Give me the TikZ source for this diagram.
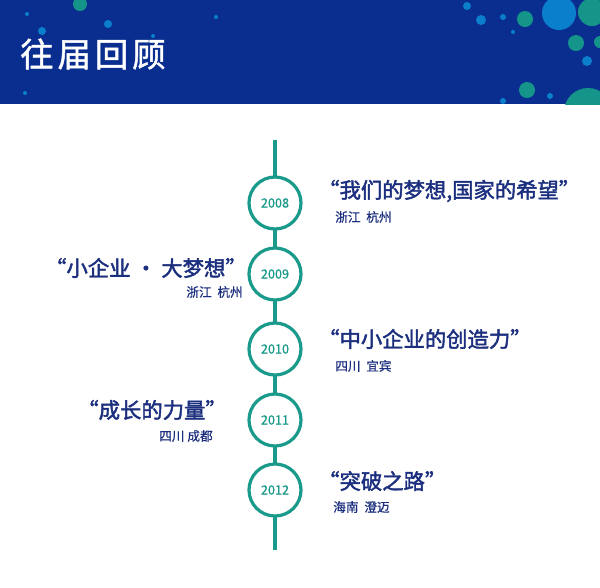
\documentclass[tikz,border=0pt]{standalone}
\usepackage{fontspec}
\newfontfamily\cjk{Noto Sans CJK SC}
\newfontfamily\cjkm{Noto Sans CJK SC}[FakeBold=0.6]
\newfontfamily\cjkb{Noto Sans CJK SC}[FakeBold=2]
\newfontfamily\cjkt{Noto Sans CJK SC}[FakeBold=1.5,LetterSpace=12]
\definecolor{navy}{HTML}{0A2E8F}
\definecolor{tnavy}{HTML}{1B2F7E}
\definecolor{teal}{HTML}{1A9A8A}
\definecolor{dteal}{HTML}{15958A}
\definecolor{lblue}{HTML}{0A80CC}
\begin{document}
\begin{tikzpicture}[x=0.75pt,y=-0.75pt,
  yr/.style={circle,draw=teal,line width=2.4pt,fill=white,minimum size=39pt,inner sep=0,text=teal,font=\cjkm\fontsize{9.5}{9.5}\selectfont},
  ttl/.style={text=tnavy,font=\cjkb\fontsize{16}{16}\selectfont,inner sep=0},
  sub/.style={text=tnavy,font=\cjkm\fontsize{9.5}{10}\selectfont,inner sep=0},
  tc/.style={fill=dteal},bc/.style={fill=lblue}]
\useasboundingbox (0,0) rectangle (600,587);
\fill[white] (0,0) rectangle (600,587);
\begin{scope}
\clip (0,0) rectangle (600,104);
\fill[navy] (0,0) rectangle (600,104);
\fill[tc] (80,4) circle (7);
\fill[bc] (27,14) circle (2);
\fill[bc] (42,31) circle (4);
\fill[bc] (108,24) circle (4);
\fill[bc] (153,36) circle (2);
\fill[bc] (216,17) circle (2);
\fill[bc] (25,93) circle (2);
\fill[bc] (467,6) circle (4);
\fill[bc] (481,20) circle (5);
\fill[bc] (503,17) circle (3);
\fill[tc] (525,19) circle (8);
\fill[bc] (513,32) circle (2);
\fill[bc] (559,13) circle (17);
\fill[tc] (592,12) circle (14);
\fill[tc] (576,43) circle (8);
\fill[tc] (600,42) circle (6);
\fill[bc] (587,61) circle (5);
\fill[tc] (527,90) circle (8);
\fill[bc] (550,96) circle (3);
\fill[bc] (503,101) circle (3);
\fill[tc] (588,112) circle (24);
\end{scope}
\node[anchor=west,text=white,font=\cjkt\fontsize{25}{25}\selectfont,inner sep=0] (title) at (20,54) {往届回顾};
\coordinate (top) at (275,140);
\coordinate (bot) at (275,550);
\draw[teal,line width=2.4pt] (top) -- (bot);
\node[yr] (y1) at (275,203) {2008};
\node[yr] (y2) at (275,274) {2009};
\node[yr] (y3) at (275,349) {2010};
\node[yr] (y4) at (275,420) {2011};
\node[yr] (y5) at (275,490) {2012};
\node[ttl,anchor=west] (t1) at (318,191) {“我们的梦想,国家的希望”};
\node[sub,anchor=west] (s1) at (335,217) {浙江\ \ 杭州};
\node[ttl,anchor=east] (t2) at (247,268) {“小企业 · 大梦想”};
\node[sub,anchor=east] (s2) at (243,292) {浙江\ \ 杭州};
\node[ttl,anchor=west] (t3) at (318,339) {“中小企业的创造力”};
\node[sub,anchor=west] (s3) at (335,366) {四川\ \ 宜宾};
\node[ttl,anchor=east] (t4) at (227,410) {“成长的力量”};
\node[sub,anchor=east] (s4) at (213,436) {四川 成都};
\node[ttl,anchor=west] (t5) at (318,481) {“突破之路”};
\node[sub,anchor=west] (s5) at (333,507) {海南\ \ 澄迈};
\end{tikzpicture}
\end{document}
